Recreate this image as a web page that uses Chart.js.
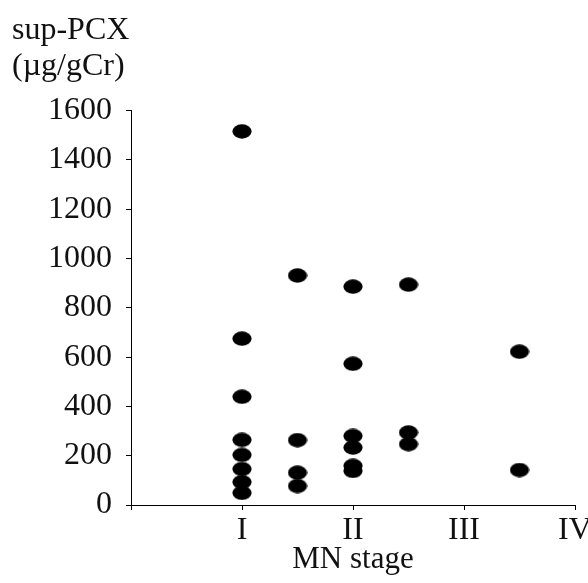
<!DOCTYPE html>
<html>
<head>
<meta charset="utf-8">
<script src="https://cdn.jsdelivr.net/npm/chart.js@4"></script>
<style>
  body { margin: 0; background: #fff; }
</style>
</head>
<body>
<canvas id="grafico" width="588" height="583"></canvas>
<script>
// Etiquetas del eje X (estadios MN)
const stageLabels = ['', 'I', 'II', 'III', 'IV'];
// Posicion de cada columna de puntos sobre el eje X
const columnPositions = [1, 1.5, 2, 2.5, 3.5];
// Valores de sup-PCX por columna
const colI = [1516, 675, 439, 264, 203, 146, 93, 49];
const colI_II = [931, 263, 131, 77];
const colII = [886, 573, 280, 233, 159, 138];
const colII_III = [894, 294, 247];
const colIII_IV = [622, 142];
const yTicks = [0, 200, 400, 600, 800, 1000, 1200, 1400, 1600];

const columns = [colI, colI_II, colII, colII_III, colIII_IV];

// Construir los puntos a partir de las columnas
const puntos = [];
columns.forEach((col, i) => {
  col.forEach(v => puntos.push({ x: columnPositions[i], y: v }));
});

// Punto eliptico como en la figura original
function crearElipse() {
  const c = document.createElement('canvas');
  c.width = 20;
  c.height = 15;
  const g = c.getContext('2d');
  g.fillStyle = '#000';
  g.beginPath();
  g.ellipse(10, 7.5, 9.6, 7.2, 0, 0, Math.PI * 2);
  g.fill();
  return c;
}

const familia = '"Liberation Serif", "Times New Roman", serif';
const fuente = { family: familia, size: 32, lineHeight: 1 };

const ctx = document.getElementById('grafico').getContext('2d');
const chart = new Chart(ctx, {
  type: 'scatter',
  data: {
    datasets: [{
      data: puntos,
      pointStyle: crearElipse(),
      pointRadius: 8,
      pointHoverRadius: 8
    }]
  },
  options: {
    responsive: false,
    animation: false,
    layout: { padding: { left: 12, right: 0, top: 13, bottom: 8 } },
    plugins: {
      legend: { display: false },
      tooltip: { enabled: false },
      title: {
        display: true,
        text: ['sup-PCX', '(\u00b5g/gCr)'],
        align: 'start',
        color: '#111',
        font: { family: familia, size: 32, weight: 'normal', lineHeight: 1.12 },
        padding: { top: 0, bottom: 26 }
      }
    },
    scales: {
      x: {
        type: 'linear',
        min: 0,
        max: 4,
        afterFit: scale => { scale.paddingRight = 13; },
        border: { display: true, color: '#000', width: 1 },
        grid: { display: true, drawOnChartArea: false, drawTicks: true, tickLength: 5, color: '#000' },
        ticks: {
          stepSize: 1,
          color: '#111',
          font: fuente,
          padding: 5,
          maxRotation: 0,
          callback: value => stageLabels[value] !== undefined ? stageLabels[value] : ''
        },
        title: {
          display: true,
          text: 'MN stage',
          color: '#111',
          font: { family: familia, size: 31, lineHeight: 1 },
          padding: { top: -8, bottom: 0 }
        }
      },
      y: {
        min: 0,
        max: 1600,
        afterFit: scale => { scale.width = 119; },
        afterBuildTicks: scale => { scale.ticks = yTicks.map(v => ({ value: v })); },
        border: { display: true, color: '#000', width: 1 },
        grid: { display: true, drawOnChartArea: false, drawTicks: true, tickLength: 5, color: '#000' },
        ticks: {
          color: '#111',
          font: fuente,
          padding: 14,
          callback: value => String(value)
        }
      }
    }
  }
});
</script>
</body>
</html>
